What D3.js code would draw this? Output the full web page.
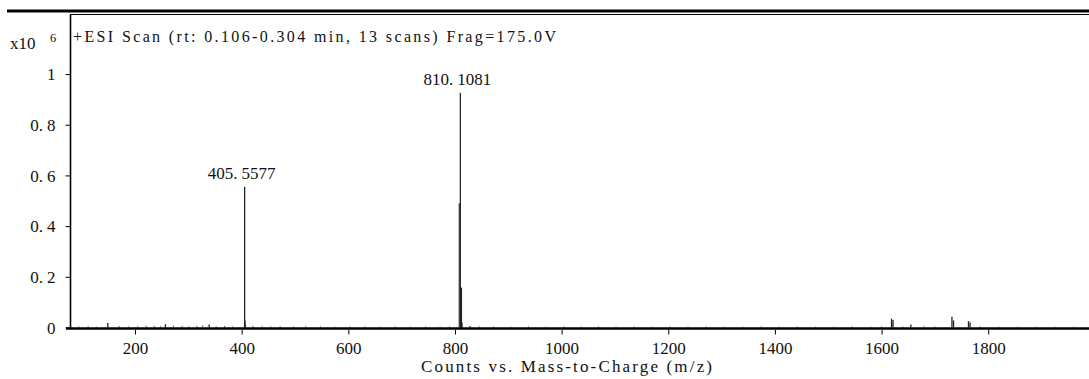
<!DOCTYPE html>
<html>
<head>
<meta charset="utf-8">
<script src="https://cdn.jsdelivr.net/npm/d3@7"></script>
<style>
  html, body { margin: 0; padding: 0; background: #fff; }
  svg { display: block; }
  text { font-family: "Liberation Serif", "Times New Roman", serif; fill: #111; }
</style>
</head>
<body>
<svg id="chart" width="1089" height="379"></svg>
<script>
// Spectrum: centroid peaks (m/z, counts in units of 10^6)
const peakMz     = [149.0, 257.0, 339.0, 405.5577, 406.06, 406.56, 808.1, 809.1, 810.1081, 811.1, 812.1, 813.1, 828.0,
                    1618.7, 1621.5, 1655.0, 1732.0, 1735.0, 1763.0, 1766.0];
const peakCounts = [0.018, 0.013, 0.012, 0.555, 0.028, 0.012, 0.49, 0.49, 0.926, 0.157, 0.157, 0.02, 0.006,
                    0.035, 0.030, 0.012, 0.042, 0.028, 0.025, 0.020];

// Low-level baseline signal
const noiseMz     = [95, 112, 128, 170, 188, 205, 221, 236, 248, 272, 288, 301, 316, 327, 352, 368, 383, 421, 438,
                     455, 472, 497, 520, 548, 575, 603, 631, 660, 688, 716, 745, 772, 790, 845, 872, 905, 938, 970,
                     1004, 1037, 1069, 1102, 1136, 1170, 1203, 1237, 1271, 1305, 1340, 1374, 1408, 1442, 1476, 1510,
                     1545, 1580, 1600, 1640, 1680, 1700, 1785, 1820, 1855, 1890, 1925, 1960];
const noiseCounts = [0.004, 0.005, 0.003, 0.006, 0.004, 0.005, 0.007, 0.006, 0.005, 0.007, 0.006, 0.005, 0.006, 0.008,
                     0.005, 0.006, 0.004, 0.006, 0.005, 0.004, 0.005, 0.004, 0.005, 0.004, 0.003, 0.004, 0.004,
                     0.003, 0.004, 0.003, 0.004, 0.003, 0.004, 0.005, 0.004, 0.003, 0.004, 0.003, 0.004, 0.003,
                     0.004, 0.003, 0.004, 0.003, 0.004, 0.003, 0.004, 0.003, 0.003, 0.004, 0.003, 0.004, 0.003,
                     0.003, 0.004, 0.003, 0.004, 0.004, 0.005, 0.004, 0.004, 0.003, 0.003, 0.003, 0.003, 0.003];

// Annotated peaks
const labeledMz     = [405.5577, 810.1081];
const labeledCounts = [0.555, 0.926];

// Axis ticks
const massTicks  = [200, 400, 600, 800, 1000, 1200, 1400, 1600, 1800];
const countTicks = [0, 0.2, 0.4, 0.6, 0.8, 1];

const headerText = "+ESI Scan (rt: 0.106-0.304 min, 13 scans) Frag=175.0V";
const xTitle = "Counts vs. Mass-to-Charge (m/z)";

const svg = d3.select("#chart");

const x = d3.scaleLinear().domain([79, 1989]).range([70.5, 1089]);
const y = d3.scaleLinear().domain([0, 1.235]).range([327.5, 14.5]);

const labelSize = "17px";

// Writes a decimal number with a little extra room after the point
function spacedDecimal(sel, str) {
  const i = str.indexOf(".");
  sel.text(null);
  if (i < 0) { sel.text(str); return; }
  sel.append("tspan").text(str.slice(0, i + 1));
  sel.append("tspan").attr("dx", 4).text(str.slice(i + 1));
}

// Heavy rule across the top and the thin frame line under it
svg.append("line").attr("x1", 7).attr("x2", 1089).attr("y1", 11).attr("y2", 11)
  .attr("stroke", "#000").attr("stroke-width", 3);
svg.append("line").attr("x1", 70).attr("x2", 1089).attr("y1", 14.5).attr("y2", 14.5)
  .attr("stroke", "#000").attr("stroke-width", 1);

// Baseline signal
svg.append("g").selectAll("line").data(noiseMz.map((m, i) => [m, noiseCounts[i]])).join("line")
  .attr("x1", d => x(d[0])).attr("x2", d => x(d[0]))
  .attr("y1", y(0)).attr("y2", d => y(d[1]))
  .attr("stroke", "#555").attr("stroke-width", 1);

// Peaks
svg.append("g").selectAll("line").data(peakMz.map((m, i) => [m, peakCounts[i]])).join("line")
  .attr("x1", d => x(d[0])).attr("x2", d => x(d[0]))
  .attr("y1", y(0)).attr("y2", d => y(d[1]))
  .attr("stroke", d => d[1] > 0.9 ? "#2a2a2a" : (d[1] > 0.3 && d[1] < 0.5 ? "#4a4a4a" : "#222"))
  .attr("stroke-width", 1.3);

// Y axis
const yAxis = svg.append("g").attr("transform", "translate(70.5,0)")
  .call(d3.axisLeft(y).tickValues(countTicks).tickSize(5).tickSizeOuter(0).tickFormat(d3.format("")));
yAxis.select(".domain").attr("d", `M0,${y.range()[1]}V${y(0) + 1}`).attr("stroke", "#000").attr("stroke-width", 1.6);
yAxis.selectAll(".tick line").attr("stroke", "#000");
yAxis.selectAll(".tick text")
  .attr("x", -15).attr("dy", "0.34em")
  .style("font-size", labelSize).attr("fill", "#111")
  .each(function(d) { spacedDecimal(d3.select(this), d3.format("")(d)); });

// X axis
const xAxis = svg.append("g").attr("transform", `translate(0,${y(0) + 1})`)
  .call(d3.axisBottom(x).tickValues(massTicks).tickSize(6).tickSizeOuter(0).tickFormat(d3.format("d")));
xAxis.select(".domain").attr("d", `M66,0H1089`).attr("stroke", "#000").attr("stroke-width", 2.6);
xAxis.selectAll(".tick line").attr("stroke", "#000").attr("y1", 1.5);
xAxis.selectAll(".tick text").attr("y", 25).attr("dy", 0)
  .style("font-size", labelSize).attr("fill", "#111");

// Scale factor marker
svg.append("text").attr("x", 10).attr("y", 49).style("font-size", labelSize).text("x10");
svg.append("text").attr("x", 50).attr("y", 42).style("font-size", "12.5px").text("6");

// Scan header
svg.append("text").attr("x", 73).attr("y", 41.5).style("font-size", "16px")
  .attr("textLength", 483).attr("lengthAdjust", "spacing").text(headerText);

// Peak annotations
svg.append("g").selectAll("text").data(labeledMz.map((m, i) => [m, labeledCounts[i]])).join("text")
  .attr("x", d => x(d[0]) - 3).attr("y", d => y(d[1]) - 8)
  .attr("text-anchor", "middle").style("font-size", labelSize)
  .each(function(d) { spacedDecimal(d3.select(this), d3.format(".4f")(d[0])); });

// Axis title
svg.append("text").attr("x", 421).attr("y", 372).style("font-size", labelSize)
  .attr("textLength", 291).attr("lengthAdjust", "spacing").text(xTitle);
</script>
</body>
</html>
